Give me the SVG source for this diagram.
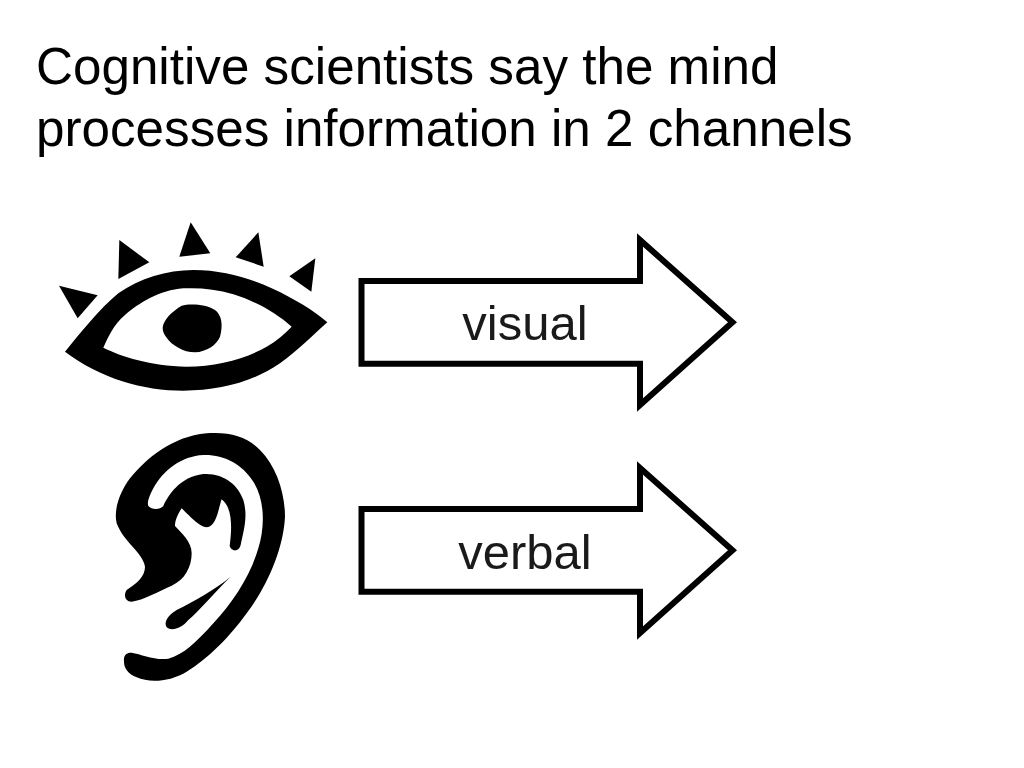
<svg xmlns="http://www.w3.org/2000/svg" width="1024" height="768" viewBox="0 0 1024 768">
<style>
text{font-family:"Liberation Sans",Arial,sans-serif;fill:#000}
.title{font-size:51.2px}
.label{font-size:49px;fill:#1a1a1a;text-anchor:middle}
.arrow{fill:#fff;stroke:#000;stroke-width:6;stroke-miterlimit:10}
.ink{fill:#000;fill-rule:evenodd}
</style>
<defs>
<path id="arrowShape" class="arrow" d="M361.5,281H640V240L732.5,322.3L640,405V363.7H361.5Z"/>
</defs>
<rect width="1024" height="768" fill="#fff"/>
<g id="title">
<text class="title" x="36" y="84">Cognitive scientists say the mind</text>
<text class="title" x="36" y="146">processes information in 2 channels</text>
</g>
<g id="eye" transform="translate(50 215) scale(.33333)">
<path class="ink" d="M45,410C95,350 145,285 205,235C270,190 350,165 430,165C520,165 600,190 670,222C730,250 790,285 832,322C790,360 745,405 690,445C610,500 510,527 400,527C280,527 150,490 45,410ZM160,398C215,425 300,452 410,455C500,455 590,430 650,395C680,378 705,355 725,335C680,295 620,260 550,238C500,222 450,218 400,220C330,225 265,265 225,300C190,330 175,365 160,398Z"/>
<path class="ink" d="M338,338C340,315 365,290 395,272C420,265 470,268 495,285C515,300 520,330 510,365C500,390 470,410 435,412C400,412 365,390 350,368C342,358 338,348 338,338Z"/>
<polygon class="ink" points="27,212 143,241 83,310"/>
<polygon class="ink" points="208,75 298,142 205,192"/>
<polygon class="ink" points="422,22 481,115 388,125"/>
<polygon class="ink" points="625,52 641,155 557,127"/>
<polygon class="ink" points="796,130 784,230 718,184"/>
</g>
<g id="ear" transform="translate(100 420) scale(.33333)">
<path class="ink" d="M72,725C70,705 80,697 95,698C125,703 165,722 205,716C250,705 290,665 340,610C400,545 450,470 475,385C495,320 495,240 460,185C425,130 370,103 310,105C245,108 190,150 160,205C150,225 140,245 145,258C155,270 180,270 190,258C205,225 240,170 310,162C370,158 415,195 430,240C445,290 430,335 422,375C418,395 395,397 389,378C395,330 400,265 365,238C355,265 350,320 320,322C300,322 265,285 245,265C235,280 225,300 225,318C245,340 275,365 275,400C275,440 255,480 215,497C175,515 130,540 95,545C75,545 70,525 80,510C110,490 135,470 135,440C130,400 70,365 50,310C40,270 60,215 90,175C140,115 215,50 320,40C390,35 440,50 480,90C530,140 555,220 555,290C550,390 500,500 440,580C390,650 320,720 260,755C210,785 150,790 110,772C85,762 72,745 72,725Z"/>
<path class="ink" d="M392,470C350,510 300,570 265,600C245,625 215,635 200,622C190,605 205,585 230,570C280,545 350,505 392,470Z"/>
</g>
<g id="connectors">
<g id="arrow-visual"><use href="#arrowShape"/><text class="label" x="525" y="340">visual</text></g>
<g id="arrow-verbal"><use href="#arrowShape" y="228"/><text class="label" x="525" y="569">verbal</text></g>
</g>
</svg>
